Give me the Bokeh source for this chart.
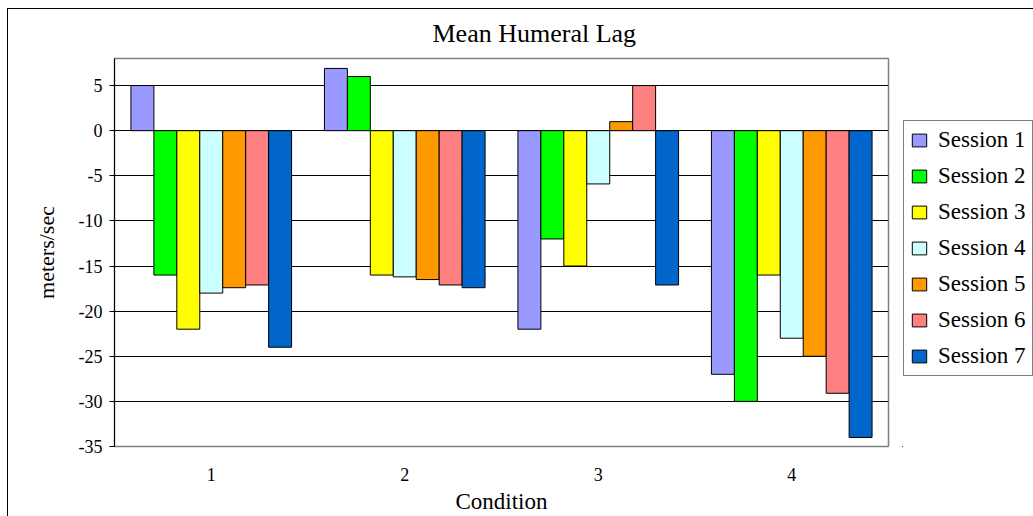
from bokeh.plotting import figure
from bokeh.layouts import row
from bokeh.models import (Range1d, FactorRange, FixedTicker, Legend, LegendItem,
                          ColumnDataSource)
from bokeh.transform import dodge
from bokeh.embed import file_html
from bokeh.resources import INLINE

# ---- data ----
conditions = ["1", "2", "3", "4"]
session_names = ["Session 1", "Session 2", "Session 3", "Session 4",
                 "Session 5", "Session 6", "Session 7"]
session_1 = [5.0, 6.9, -22.0, -27.0]
session_2 = [-16.0, 6.0, -12.0, -30.0]
session_3 = [-22.0, -16.0, -15.0, -16.0]
session_4 = [-18.0, -16.2, -5.9, -23.0]
session_5 = [-17.4, -16.5, 1.0, -25.0]
session_6 = [-17.1, -17.1, 5.0, -29.1]
session_7 = [-24.0, -17.4, -17.1, -34.0]
session_colors = ["#9999FF", "#00FF00", "#FFFF00", "#CCFFFF",
                  "#FF9900", "#FF8080", "#0066CC"]
y_ticks = [-35, -30, -25, -20, -15, -10, -5, 0, 5]
y_tick_labels = ["-35", "-30", "-25", "-20", "-15", "-10", "-5", "0", "5"]

series = [session_1, session_2, session_3, session_4,
          session_5, session_6, session_7]
keys = ["s%d" % (i + 1) for i in range(len(series))]
data = {"cond": conditions}
for k, s in zip(keys, series):
    data[k] = s
source = ColumnDataSource(data)

FONT = "Liberation Serif"

# ---------------- main chart ----------------
p = figure(width=894, height=507,
           x_range=FactorRange(*conditions), y_range=Range1d(-35, 8),
           output_backend="svg", toolbar_location=None,
           min_border_left=106, min_border_right=14,
           min_border_top=49, min_border_bottom=68,
           background_fill_color="white", border_fill_color="white")

bar_w = 0.1186
for i, (k, c) in enumerate(zip(keys, session_colors)):
    p.vbar(x=dodge("cond", (i - 3) * bar_w, range=p.x_range), top=k, bottom=0,
           width=bar_w, source=source, fill_color=c,
           line_color="black", line_width=1)

# title
p.title.text = "Mean Humeral Lag"
p.title.align = "left"
p.title.vertical_align = "top"
p.title.offset = 318
p.title.text_font = FONT
p.title.text_font_size = "26px"
p.title.text_font_style = "normal"
p.title.text_color = "black"
p.title.standoff = 18

# axes
p.yaxis.ticker = FixedTicker(ticks=y_ticks)
p.yaxis.major_label_overrides = {t: l for t, l in zip(y_ticks, y_tick_labels)}
p.yaxis.major_label_text_font = FONT
p.yaxis.major_label_text_font_size = "18px"
p.yaxis.major_label_text_color = "black"
p.yaxis.major_tick_in = 0
p.yaxis.major_tick_out = 5
p.yaxis.minor_tick_line_color = None
p.yaxis.axis_line_color = "black"
p.yaxis.major_tick_line_color = "black"
p.yaxis.major_label_standoff = 7
p.yaxis.axis_label = "meters/sec"
p.yaxis.axis_label_text_font = FONT
p.yaxis.axis_label_text_font_style = "normal"
p.yaxis.axis_label_text_font_size = "22px"
p.yaxis.axis_label_text_color = "black"
p.yaxis.axis_label_standoff = 17

p.xaxis.axis_line_color = None
p.xaxis.major_tick_line_color = None
p.xaxis.minor_tick_line_color = None
p.xaxis.major_label_text_font = FONT
p.xaxis.major_label_text_font_size = "18px"
p.xaxis.major_label_text_color = "black"
p.xaxis.major_label_standoff = 15
p.xaxis.axis_label = "Condition"
p.xaxis.axis_label_text_font = FONT
p.xaxis.axis_label_text_font_style = "normal"
p.xaxis.axis_label_text_font_size = "23px"
p.xaxis.axis_label_text_color = "black"
p.xaxis.axis_label_standoff = 5

p.xgrid.visible = False
p.ygrid.ticker = FixedTicker(ticks=y_ticks)
p.ygrid.grid_line_color = "black"
p.ygrid.grid_line_width = 1

p.outline_line_color = "#808080"
p.outline_line_width = 1.5

# ---------------- legend strip (frame aligned with the chart's frame) ----------------
lg = figure(width=131, height=507, x_range=Range1d(0, 1), y_range=Range1d(0, 1),
            output_backend="svg", toolbar_location=None,
            x_axis_location=None, y_axis_location=None,
            min_border=0, outline_line_color=None,
            background_fill_color="white", border_fill_color="white")
lg.grid.visible = False
swatches = []
for c in session_colors:
    # legend proxies, placed outside the visible range of this strip
    swatches.append(lg.vbar(x=[-5], top=[-5], bottom=[-6], width=0.1,
                            fill_color=c, line_color="black", line_width=1))

legend = Legend(items=[LegendItem(label=n, renderers=[r])
                       for n, r in zip(session_names, swatches)],
                location=(1, 70), orientation="vertical",
                label_text_font=FONT, label_text_font_size="23px",
                label_text_color="black", label_standoff=10,
                glyph_width=18, glyph_height=16, label_height=24,
                spacing=10, padding=6, margin=0,
                border_line_color="black", border_line_width=1,
                background_fill_color="white", background_fill_alpha=1)
lg.add_layout(legend, "center")

layout = row(p, lg, spacing=0)
layout.styles = {"border-left": "1px solid #000", "border-top": "1px solid #000"}
layout.margin = (8, 0, 0, 7)

open("out.html", "w").write(file_html(layout, INLINE))
